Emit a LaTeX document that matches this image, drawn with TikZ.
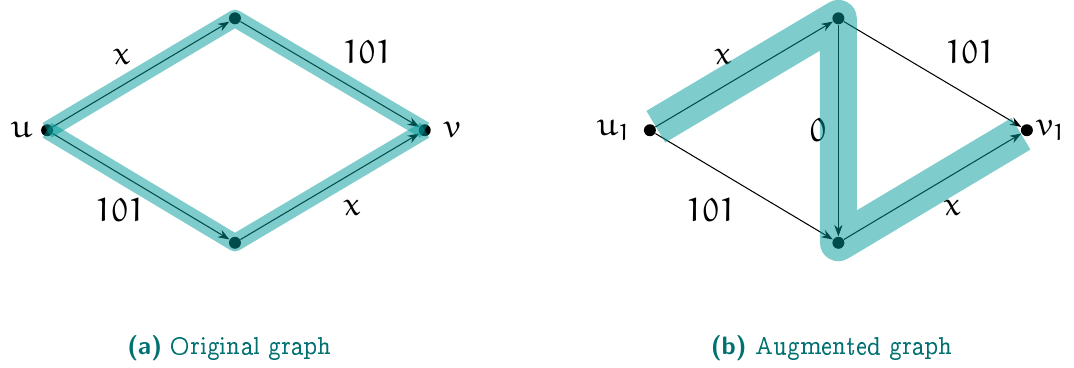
\documentclass[tikz,border=0pt]{standalone}
\usepackage[OT1]{fontenc}
\renewcommand{\rmdefault}{ccr}
\usepackage{amsfonts}
\DeclareMathAlphabet{\mathe}{U}{eur}{m}{n}
\newcommand{\capsf}{\fontfamily{cmss}\fontseries{bx}\selectfont}
\usetikzlibrary{arrows.meta}

\definecolor{hlteal}{RGB}{0,153,153}
\definecolor{capteal}{RGB}{0,112,112}

\begin{document}
\begin{tikzpicture}[
    dot/.style={circle, fill=black, inner sep=0pt, minimum size=5.2pt},
    edge/.style={-{Stealth[length=5pt,width=3.6pt]}, line width=0.45pt},
    hlthin/.style={draw=hlteal, opacity=0.5, line width=7.5pt, line join=round},
    hlthick/.style={draw=hlteal, opacity=0.5, line width=16pt, line join=round},
    lab/.style={font=\Large, inner sep=1pt},
    caption/.style={text=capteal, inner sep=1pt, font=\fontsize{11.2}{14}\selectfont},
]
\useasboundingbox (0,0) rectangle (16.41,5.61);

% ---- column x-coordinates ----
\def\xuL{0.72}    % u
\def\xmL{3.59}    % middle column, left graph
\def\xvL{6.49}    % v
\def\xuR{9.93}    % u_1
\def\xmR{12.81}   % middle column, right graph
\def\xvR{15.69}   % v_1

% ---- row y-coordinates ----
\def\ytop{5.33}
\def\ymid{3.62}
\def\ybot{1.90}
\def\ycap{0.29}

% ---- left graph: vertices ----
\node[dot] (uL)   at (\xuL,\ymid) {};
\node[dot] (topL) at (\xmL,\ytop) {};
\node[dot] (botL) at (\xmL,\ybot) {};
\node[dot] (vL)   at (\xvL,\ymid) {};
\node[lab] (uLlab) at (0.33,\ymid) {$\mathe{u}$};
\node[lab] (vLlab) at (6.91,\ymid) {$\mathe{v}$};

% ---- left graph: edges ----
\draw[edge] (uL) -- (topL);
\draw[edge] (topL) -- (vL);
\draw[edge] (uL) -- (botL);
\draw[edge] (botL) -- (vL);
\node[lab] (xLa)   at (1.86,4.74) {$\mathe{x}$};
\node[lab] (wLa)   at (5.61,4.81) {$\mathe{101}$};
\node[lab] (wLb)   at (1.83,2.40) {$\mathe{101}$};
\node[lab] (xLb)   at (5.38,2.43) {$\mathe{x}$};

% ---- left graph: highlighted paths ----
\draw[hlthin] (uL.center) -- (topL.center) -- (vL.center);
\draw[hlthin] (uL.center) -- (botL.center) -- (vL.center);

% ---- right graph: vertices ----
\node[dot] (uR)   at (\xuR,\ymid) {};
\node[dot] (topR) at (\xmR,\ytop) {};
\node[dot] (botR) at (\xmR,\ybot) {};
\node[dot] (vR)   at (\xvR,\ymid) {};
\node[lab] (uRlab) at (9.38,\ymid) {$\mathe{u}_{\mathe{1}}$};
\node[lab] (vRlab) at (16.06,\ymid) {$\mathe{v}_{\mathe{1}}$};

% ---- right graph: edges ----
\draw[edge] (uR) -- (topR);
\draw[edge] (topR) -- (vR);
\draw[edge] (uR) -- (botR);
\draw[edge] (botR) -- (vR);
\draw[edge] (topR) -- (botR);
\node[lab] (xRa)   at (11.05,4.74) {$\mathe{x}$};
\node[lab] (wRa)   at (14.82,4.81) {$\mathe{101}$};
\node[lab] (zR)    at (12.50,\ymid) {$\mathe{0}$};
\node[lab] (wRb)   at (10.86,2.40) {$\mathe{101}$};
\node[lab] (xRb)   at (14.55,2.43) {$\mathe{x}$};

% ---- right graph: highlighted path ----
\draw[hlthick, shorten <=3pt, shorten >=3pt]
    (uR.center) -- (topR.center) -- (botR.center) -- (vR.center);

% ---- captions ----
\node[caption] (capA) at (3.51,\ycap) {{\capsf (a)}\ Original graph};
\node[caption] (capB) at (12.71,\ycap) {{\capsf (b)}\ Augmented graph};

\end{tikzpicture}
\end{document}
